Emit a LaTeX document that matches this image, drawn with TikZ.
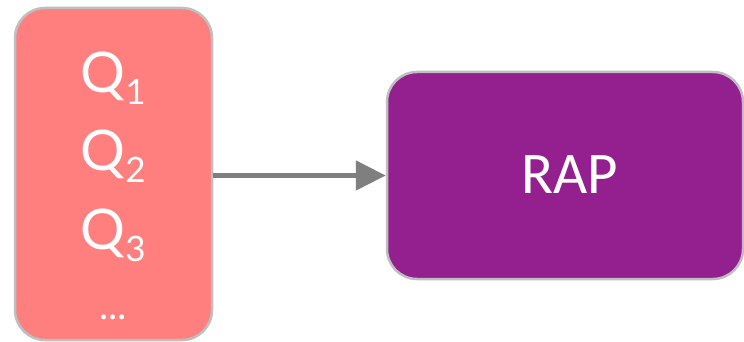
\documentclass[tikz,border=0pt]{standalone}
\usepackage{fontspec}
\setmainfont{Carlito}
\newfontfamily\latofont{Lato}
\usetikzlibrary{arrows.meta}
\definecolor{boxedge}{HTML}{BFBFBF}
\definecolor{salmon}{HTML}{FF7F7F}
\definecolor{plum}{HTML}{941F8E}
\definecolor{arrowgray}{HTML}{7F7F7F}
\newcommand\qitem[1]{Q\raisebox{-12pt}{\fontsize{35}{35}\selectfont #1}}
\tikzset{
  panel/.style={draw=boxedge, line width=2.5pt, rounded corners=30pt, inner sep=0pt},
  label text/.style={text=white, inner sep=0pt, anchor=base},
  flow/.style={draw=arrowgray, line width=5pt, -{Triangle[length=30pt,width=29pt]}}
}
\begin{document}
\begin{tikzpicture}[x=1pt, y=-1pt]
  \useasboundingbox (0,0) rectangle (744,342);
  % query stack
  \node[panel, fill=salmon, minimum width=197pt, minimum height=332pt] (queries) at (113.5,174) {};
  \node[label text, font=\latofont\fontsize{56}{56}\selectfont] (q1) at (113,93) {\qitem{1}};
  \node[label text, font=\latofont\fontsize{56}{56}\selectfont] (q2) at (113,171) {\qitem{2}};
  \node[label text, font=\latofont\fontsize{56}{56}\selectfont] (q3) at (113,249) {\qitem{3}};
  \node[label text, font=\latofont\fontsize{39}{39}\selectfont] (more) at (113,319) {...};
  % target block
  \node[panel, fill=plum, minimum width=356pt, minimum height=207pt] (rap) at (565,175.5) {};
  \node[label text, font=\fontsize{59}{59}\selectfont] (raptext) at (570,193) {RAP};
  % connector, kept horizontal at the height of the target block
  \draw[flow] (queries.east |- rap.west) -- (rap.west);
\end{tikzpicture}
\end{document}
